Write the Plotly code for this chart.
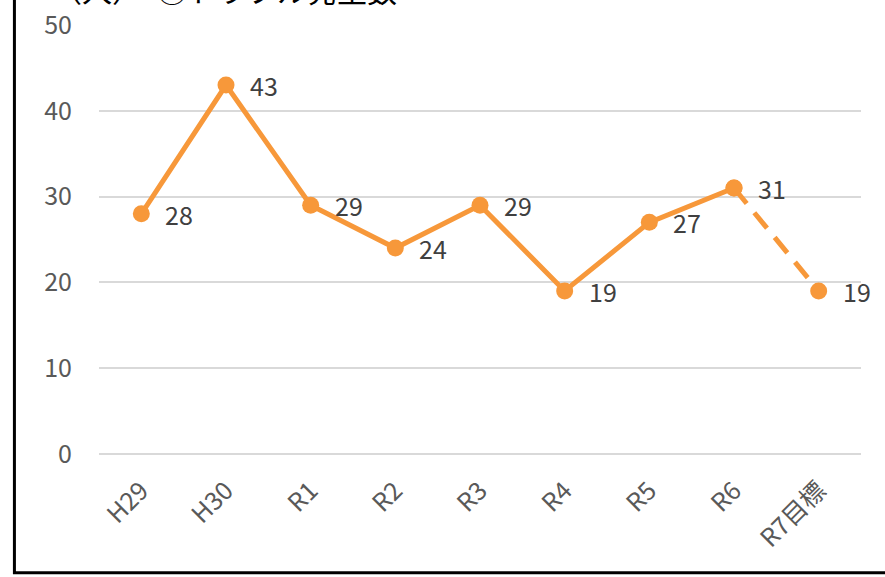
import plotly.graph_objects as go

categories = ["H29", "H30", "R1", "R2", "R3", "R4", "R5", "R6", "R7目標"]
values = [28, 43, 29, 24, 29, 19, 27, 31, 19]
y_ticks = [0, 10, 20, 30, 40, 50]
title_text = "（人）　⑨トラブル発生数"

ORANGE = "#F7983A"
FONT = "Noto Sans CJK JP"

fig = go.Figure()
# solid actual series
fig.add_trace(go.Scatter(
    x=categories[:8], y=values[:8], mode="lines+markers",
    line=dict(color=ORANGE, width=5),
    marker=dict(color=ORANGE, size=17),
    hoverinfo="skip", showlegend=False))
# dashed target segment
fig.add_trace(go.Scatter(
    x=categories[7:], y=values[7:], mode="lines+markers",
    line=dict(color=ORANGE, width=5, dash="20px,12px"),
    marker=dict(color=ORANGE, size=17),
    hoverinfo="skip", showlegend=False))

for c, v in zip(categories, values):
    fig.add_annotation(x=c, y=v, text=str(v), showarrow=False,
                       xshift=38, yshift=0,
                       font=dict(family=FONT, size=25, color="#404040"))

fig.add_annotation(xref="paper", yref="paper", x=-0.064, y=1.083,
                   xanchor="left", yanchor="middle", text=title_text,
                   showarrow=False,
                   font=dict(family=FONT, size=30, color="#000000"))

fig.add_shape(type="rect", xref="paper", yref="paper",
              x0=-0.111, x1=1.2, y0=-0.277, y1=1.3,
              line=dict(color="#000000", width=3), layer="below")

fig.update_layout(
    width=885, height=577,
    margin=dict(l=99, r=24, t=25, b=123),
    paper_bgcolor="white", plot_bgcolor="white",
    font=dict(family=FONT, color="#595959"),
    xaxis=dict(type="category", tickangle=-45, showgrid=False,
               showline=False, ticks="", range=[-0.5, 8.5],
               automargin=False, ticklabelstandoff=16,
               tickfont=dict(family=FONT, size=25, color="#595959")),
    yaxis=dict(range=[0, 50], tickvals=y_ticks, showgrid=True,
               gridcolor="#D9D9D9", gridwidth=1.5, zeroline=True,
               zerolinecolor="#D9D9D9", zerolinewidth=1.5,
               showline=False, ticks="", ticklabelstandoff=26,
               automargin=False,
               tickfont=dict(family=FONT, size=25, color="#595959")),
)

fig.write_html("out.html", config={"displayModeBar": False},
               post_script="document.body.style.margin='0px';")
